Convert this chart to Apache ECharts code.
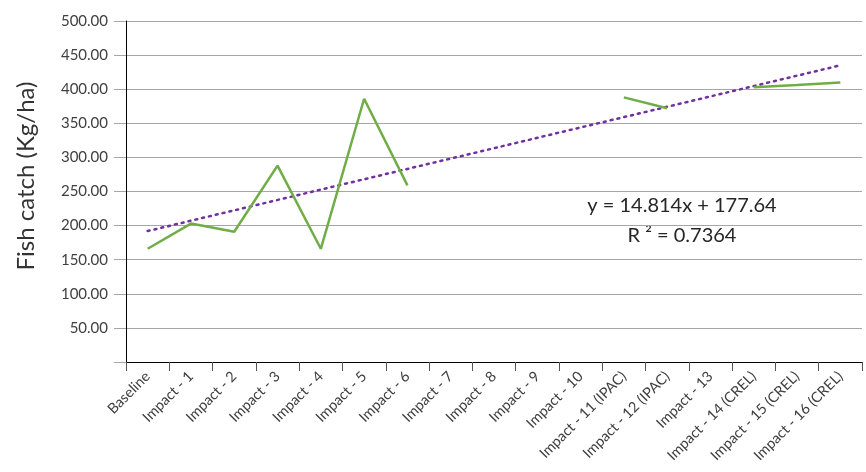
<!DOCTYPE html>
<html>
<head>
<meta charset="utf-8">
<script src="https://cdn.jsdelivr.net/npm/echarts@6/dist/echarts.min.js"></script>
<style>
  html, body { margin: 0; padding: 0; background: #fff; }
  #chart { width: 866px; height: 472px; }
</style>
</head>
<body>
<div id="chart"></div>
<script>
// Fish catch per monitoring round, with linear trend
const categories = [
  "Baseline", "Impact - 1", "Impact - 2", "Impact - 3", "Impact - 4", "Impact - 5",
  "Impact - 6", "Impact - 7", "Impact - 8", "Impact - 9", "Impact - 10",
  "Impact - 11 (IPAC)", "Impact - 12 (IPAC)", "Impact - 13",
  "Impact - 14 (CREL)", "Impact - 15 (CREL)", "Impact - 16 (CREL)"
];
const catchValues = [166, 203, 191, 288, 166, 386, 259, null, null, null, null, 388, 372, null, 403, 406, 410];
// trend line end points
const trendValues = [192, null, null, null, null, null, null, null, null, null, null, null, null, null, null, null, 435];
const equationLines = ["y = 14.814x + 177.64", "R ² = 0.7364"];
const axisTitle = "Fish catch (Kg/ha)";

const FONT = "Lato, 'Noto Sans', sans-serif";
const chart = echarts.init(document.getElementById("chart"), null, { renderer: "canvas" });

chart.setOption({
  backgroundColor: "#fff",
  animation: false,
  grid: { left: 126, right: 4, top: 21, bottom: 110 },
  xAxis: {
    type: "category",
    data: categories,
    boundaryGap: true,
    axisLine: { lineStyle: { color: "#000", width: 1 } },
    axisTick: { show: true, length: 9, lineStyle: { color: "#555" } },
    axisLabel: {
      rotate: 45,
      interval: 0,
      margin: 12,
      color: "#404040",
      fontFamily: FONT,
      fontSize: 14.5,
    },
    splitLine: { show: false },
  },
  yAxis: {
    type: "value",
    min: 0,
    max: 500,
    interval: 50,
    axisLine: { show: true, lineStyle: { color: "#000", width: 1 } },
    axisTick: { show: true, length: 12, lineStyle: { color: "#a6a6a6" } },
    axisLabel: {
      margin: 18,
      color: "#404040",
      fontFamily: FONT,
      fontSize: 15,
      formatter: (v) => (v === 0 ? "" : v.toFixed(2)),
    },
    splitLine: { lineStyle: { color: "#a6a6a6", width: 1.2 } },
  },
  series: [
    {
      type: "line",
      data: catchValues,
      connectNulls: false,
      showSymbol: false,
      symbol: "none",
      lineStyle: { color: "#70ad47", width: 2.5 },
      z: 3,
    },
    {
      type: "line",
      data: trendValues,
      connectNulls: true,
      showSymbol: false,
      symbol: "none",
      lineStyle: { color: "#7030a0", width: 2.5, type: [2, 5], cap: "round" },
      z: 2,
    },
  ],
  graphic: [
    {
      type: "text",
      x: 26,
      y: 176,
      rotation: Math.PI / 2,
      style: { text: axisTitle, fill: "#333", font: "24px " + FONT, textAlign: "center", textVerticalAlign: "middle" },
    },
    {
      type: "text",
      x: 682,
      y: 206,
      style: { text: equationLines[0], fill: "#262626", font: "20px " + FONT, textAlign: "center", textVerticalAlign: "middle" },
    },
    {
      type: "text",
      x: 682,
      y: 236,
      style: { text: equationLines[1], fill: "#262626", font: "20px " + FONT, textAlign: "center", textVerticalAlign: "middle" },
    },
  ],
});
</script>
</body>
</html>
